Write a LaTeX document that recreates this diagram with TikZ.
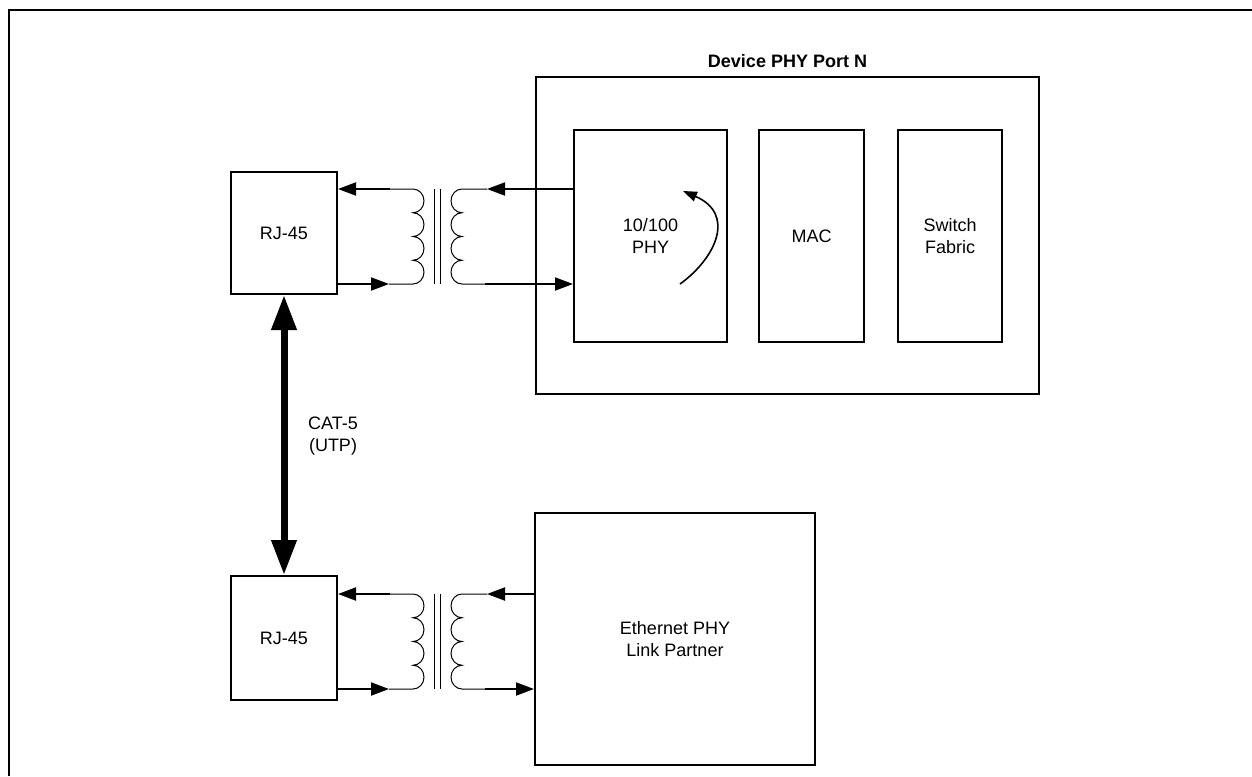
\documentclass[tikz,border=0pt]{standalone}
\usepackage{fontspec}
\setmainfont{Liberation Sans}
\usetikzlibrary{arrows.meta}
\begin{document}
\begin{tikzpicture}[x=1pt,y=1pt,
  box/.style={draw, line width=2pt, inner sep=0pt, align=center, font=\fontsize{18}{22.5}\selectfont},
  txt/.style={inner sep=0pt, align=center, font=\fontsize{18}{22.5}\selectfont},
  wire/.style={line width=1pt},
  arr/.style={line width=2pt, -{Triangle[length=18pt,width=13pt]}},
  bigarr/.style={line width=7pt, {Triangle[length=35pt,width=24pt]}-{Triangle[length=35pt,width=24pt]}},
  curvarr/.style={line width=1.6pt, -{Triangle[length=14pt,width=10pt]}}
]
\useasboundingbox (0,0) rectangle (1252,-776);
\draw[line width=2pt] (9,-776) -- (9,-10) -- (1252,-10);

\node[box, minimum width=106pt, minimum height=122pt] (rjA) at (284,-233) {RJ-45};
\node[box, minimum width=106pt, minimum height=124pt] (rjB) at (284,-638) {RJ-45};
\node[box, minimum width=503pt, minimum height=317pt] (dev) at (787.5,-235.5) {};
\node[txt, font=\fontsize{18}{22.5}\selectfont\bfseries, anchor=base] (title) at (787.5,-67) {Device PHY Port N};
\node[box, minimum width=153pt, minimum height=212pt] (phy) at (650.5,-236) {10/100\\PHY};
\node[box, minimum width=105pt, minimum height=212pt] (mac) at (811.5,-236) {MAC};
\node[box, minimum width=104pt, minimum height=212pt] (sw) at (950,-236) {Switch\\Fabric};
\node[box, minimum width=280pt, minimum height=252pt] (eth) at (675,-639) {Ethernet PHY\\Link Partner};
\node[txt] (cat) at (333,-436) {CAT-5\\(UTP)};

\draw[bigarr] (rjA.south) -- (rjB.north);

\draw[curvarr] (680,-284) .. controls (716,-258) and (736,-214) .. (683,-191);

\foreach \n/\ya/\yb/\L/\R in {A/189/284/rjA/phy, B/594/689/rjB/eth}{
  \pgfmathsetmacro\hh{(\yb-\ya)/8}
  \coordinate (p1\n) at (390,-\ya);
  \coordinate (p2\n) at (389,-\yb);
  \coordinate (q1\n) at (487,-\ya);
  \coordinate (q2\n) at (485,-\yb);
  \draw[wire] (p1\n) -- (413,-\ya)
    arc[start angle=90,end angle=-90,x radius=11pt,y radius=\hh pt]
    arc[start angle=90,end angle=-90,x radius=11pt,y radius=\hh pt]
    arc[start angle=90,end angle=-90,x radius=11pt,y radius=\hh pt]
    arc[start angle=90,end angle=-90,x radius=11pt,y radius=\hh pt]
    -- (p2\n);
  \draw[wire] (q1\n) -- (462,-\ya)
    arc[start angle=90,end angle=270,x radius=11pt,y radius=\hh pt]
    arc[start angle=90,end angle=270,x radius=11pt,y radius=\hh pt]
    arc[start angle=90,end angle=270,x radius=11pt,y radius=\hh pt]
    arc[start angle=90,end angle=270,x radius=11pt,y radius=\hh pt]
    -- (q2\n);
  \draw[wire] (434.5,-\ya) -- (434.5,-\yb) (440.5,-\ya) -- (440.5,-\yb);
  \draw[arr] (p1\n) -- (p1\n -| \L.east);
  \draw[arr] (\L.east |- p2\n) -- (p2\n);
  \draw[arr] (\R.west |- q1\n) -- (q1\n);
  \draw[arr] (q2\n) -- (q2\n -| \R.west);
}
\end{tikzpicture}
\end{document}
